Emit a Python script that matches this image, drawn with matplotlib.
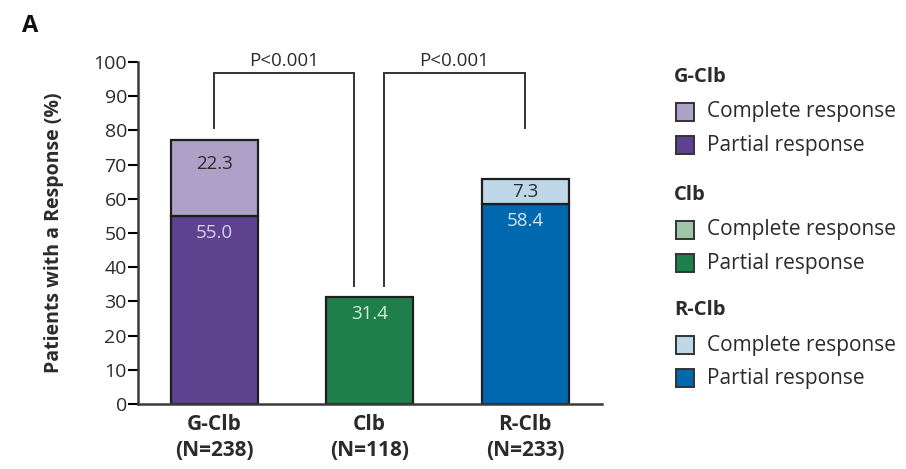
import matplotlib
matplotlib.use("Agg")
import matplotlib.pyplot as plt
from matplotlib.patches import Rectangle

# data
groups = ["G-Clb", "Clb", "R-Clb"]
n_patients = [238, 118, 233]
partial = [55.0, 31.4, 58.4]
complete = [22.3, 0.0, 7.3]
partial_colors = ["#5d4290", "#1f7f4a", "#0068ae"]
complete_colors = ["#aea1c7", "#9fc6a6", "#bed8ea"]
p_labels = ["P<0.001", "P<0.001"]

# brackets: (x_left, x_right, y_left_bottom, y_right_bottom, y_top)
brackets = [(0.0, 0.90, 80.8, 34.4, 96.8), (1.09, 2.0, 34.4, 80.8, 96.8)]

TXT = "#2b2b2b"
plt.rcParams["font.family"] = ["Open Sans", "DejaVu Sans"]

W, H = 906, 469
fig = plt.figure(figsize=(W / 100, H / 100), dpi=100)
ax = fig.add_axes([138 / W, 1 - 404 / H, (602 - 138) / W, (404 - 62) / H])

x = range(len(groups))
ax.bar(x, partial, width=0.56, color=partial_colors, edgecolor="#1e1e1e", linewidth=1.6, zorder=2)
for i in x:
    if complete[i] > 0:
        ax.bar(i, complete[i], bottom=partial[i], width=0.56, color=complete_colors[i],
               edgecolor="#1e1e1e", linewidth=1.6, zorder=2)

# value labels
label_col_partial = ["#d9d0ec", "#d7ecd9", "#d6e6f3"]
for i in x:
    ax.text(i, partial[i] - 5, f"{partial[i]:.1f}", ha="center", va="center",
            fontsize=13.5, color=label_col_partial[i])
    if complete[i] > 0:
        top = partial[i] + complete[i]
        ypos = top - 7 if complete[i] > 10 else partial[i] + complete[i] / 2
        ax.text(i, ypos, f"{complete[i]:.1f}", ha="center", va="center",
                fontsize=13.5, color=TXT)

# significance brackets
for (xl, xr, yl, yr, yt), lab in zip(brackets, p_labels):
    ax.plot([xl, xl, xr, xr], [yl, yt, yt, yr], color="#333333", lw=1.4,
            clip_on=False, solid_joinstyle="miter")
    ax.text((xl + xr) / 2, yt + 1.0, lab, ha="center", va="bottom", fontsize=13.5,
            color=TXT)

ax.set_xlim(-0.49, 2.495)
ax.set_ylim(0, 100)
ax.set_yticks(range(0, 101, 10))
ax.set_xticks(list(x))
ax.set_xticklabels([f"{g}\n(N={n})" for g, n in zip(groups, n_patients)],
                   fontsize=15, fontweight="bold", color=TXT, linespacing=1.35)
ax.tick_params(axis="y", labelsize=14, labelcolor=TXT, length=7, width=1.5, pad=1)
ax.tick_params(axis="x", length=0, pad=7)
for s in ["top", "right"]:
    ax.spines[s].set_visible(False)
for s in ["left", "bottom"]:
    ax.spines[s].set_linewidth(1.8)
    ax.spines[s].set_color("#3a3a3a")
ax.set_ylabel("Patients with a Response (%)", fontsize=14, fontweight="bold", color=TXT,
              labelpad=21)

# panel label
fig.text(22 / W, 1 - 26 / H, "A", fontsize=17, fontweight="bold", color="#111111",
         va="center", ha="left")

# legend
leg_titles = groups
leg_y = [77, 195, 310]
for k, (title, yt) in enumerate(zip(leg_titles, leg_y)):
    fig.text(674 / W, 1 - yt / H, title, fontsize=14.5, fontweight="bold", color=TXT,
             va="center", ha="left")
    for j, (lab, col) in enumerate([("Complete response", complete_colors[k]),
                                    ("Partial response", partial_colors[k])]):
        yc = yt + 35 + j * 33
        fig.add_artist(Rectangle((676 / W, 1 - (yc + 9) / H), 18 / W, 18 / H,
                                 transform=fig.transFigure, facecolor=col,
                                 edgecolor="#333333", linewidth=1.4))
        fig.text(707 / W, 1 - yc / H, lab, fontsize=15, color=TXT,
                 va="center", ha="left")

fig.savefig("out.png", dpi=100)
